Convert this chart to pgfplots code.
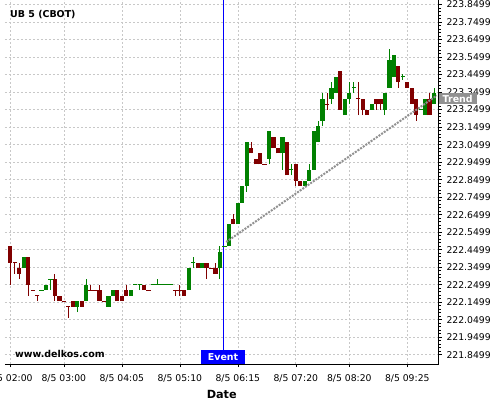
\documentclass[border=0pt]{standalone}
\usepackage{pgfplots}
\pgfplotsset{compat=1.18}
\usepackage{fontspec}
\setmainfont{DejaVu Sans}
\definecolor{cred}{RGB}{128,0,0}
\definecolor{cgreen}{RGB}{0,128,0}
\definecolor{gridc}{RGB}{200,200,200}
\definecolor{trendc}{RGB}{145,145,145}
\begin{document}
\begin{tikzpicture}
\begin{axis}[
  at={(0,0)}, anchor=south west,
  scale only axis, width=433.5bp, height=364bp,
  xmin=-1.2, xmax=96,
  ymin=221.797, ymax=223.876,
  axis x line*=bottom, axis y line*=right,
  axis line style={black, line width=0.9bp},
  xtick={0,12,25,38,51,64,76,89},
  xticklabels={8/5 02:00,8/5 03:00,8/5 04:05,8/5 05:10,8/5 06:15,8/5 07:20,8/5 08:20,8/5 09:25},
  ytick={221.8499,221.9499,222.0499,222.1499,222.2499,222.3499,222.4499,222.5499,222.6499,222.7499,222.8499,222.9499,223.0499,223.1499,223.2499,223.3499,223.4499,223.5499,223.6499,223.7499,223.8499},
  yticklabels={221.8499,221.9499,222.0499,222.1499,222.2499,222.3499,222.4499,222.5499,222.6499,222.7499,222.8499,222.9499,223.0499,223.1499,223.2499,223.3499,223.4499,223.5499,223.6499,223.7499,223.8499},
  minor x tick num=3,
  minor y tick num=4,
  tick align=outside,
  major tick length=3bp, minor tick length=2bp,
  tick style={black, line width=0.5bp},
  grid=major,
  major grid style={gridc, dash pattern=on 2bp off 2bp, line width=0.6bp},
  ticklabel style={font=\fontsize{9.3}{11}\selectfont},
  xticklabel style={yshift=-4bp},
  yticklabel style={xshift=1.5bp},
  xlabel={Date},
  xlabel style={font=\bfseries\fontsize{11.3}{13}\selectfont, yshift=-1bp},
  unbounded coords=jump,
]
% wicks
\addplot[cgreen, line width=1bp] coordinates {
(9,222.21875)(9,222.28125)(9,nan)
(15,222.09375)(15,222.15625)(15,nan)
(17,222.15625)(17,222.28125)(17,nan)
(29,222.21875)(29,222.25)(29,nan)
(33,222.25)(33,222.28125)(33,nan)
(41,222.34375)(41,222.40625)(41,nan)
(47,222.28125)(47,222.46875)(47,nan)
(53,222.78125)(53,223.0625)(53,nan)
(58,222.9375)(58,223.125)(58,nan)
(61,222.90625)(61,223.09375)(61,nan)
(63,222.875)(63,222.9375)(63,nan)
(67,222.84375)(67,222.9375)(67,nan)
(69,223.0625)(69,223.1875)(69,nan)
(70,223.15625)(70,223.34375)(70,nan)
(72,223.28125)(72,223.40625)(72,nan)
(76,223.28125)(76,223.40625)(76,nan)
(77,223.34375)(77,223.40625)(77,nan)
(84,223.21875)(84,223.34375)(84,nan)
(85,223.375)(85,223.59375)(85,nan)
(88,223.421875)(88,223.453125)(88,nan)
(95,223.28125)(95,223.375)
};
\addplot[cred, line width=1bp] coordinates {
(0,222.25)(0,222.46875)(0,nan)
(1,222.3125)(1,222.375)(1,nan)
(2,222.28125)(2,222.375)(2,nan)
(4,222.1875)(4,222.40625)(4,nan)
(6,222.15625)(6,222.1875)(6,nan)
(10,222.15625)(10,222.3125)(10,nan)
(13,222.0625)(13,222.125)(13,nan)
(18,222.21875)(18,222.25)(18,nan)
(20,222.15625)(20,222.25)(20,nan)
(26,222.1875)(26,222.25)(26,nan)
(37,222.1875)(37,222.21875)(37,nan)
(38,222.1875)(38,222.25)(38,nan)
(44,222.28125)(44,222.375)(44,nan)
(46,222.3125)(46,222.375)(46,nan)
(50,222.59375)(50,222.65625)(50,nan)
(54,223)(54,223.0625)(54,nan)
(64,222.8125)(64,222.9375)(64,nan)
(71,223.25)(71,223.34375)(71,nan)
(78,223.21875)(78,223.40625)(78,nan)
(79,223.21875)(79,223.3125)(79,nan)
(82,223.25)(82,223.3125)(82,nan)
(83,223.25)(83,223.3125)(83,nan)
(87,223.375)(87,223.5)(87,nan)
(91,223.1875)(91,223.3125)(91,nan)
(94,223.21875)(94,223.34375)
};
% bodies
\addplot[cgreen, line width=4.2bp] coordinates {
(3,222.34375)(3,222.40625)(3,nan)
(8,222.21875)(8,222.25)(8,nan)
(15,222.125)(15,222.15625)(15,nan)
(17,222.15625)(17,222.25)(17,nan)
(22,222.125)(22,222.1875)(22,nan)
(23,222.1875)(23,222.21875)(23,nan)
(27,222.1875)(27,222.21875)(27,nan)
(40,222.21875)(40,222.34375)(40,nan)
(43,222.34375)(43,222.375)(43,nan)
(47,222.34375)(47,222.4375)(47,nan)
(49,222.46875)(49,222.59375)(49,nan)
(51,222.59375)(51,222.71875)(51,nan)
(52,222.71875)(52,222.8125)(52,nan)
(53,222.8125)(53,223.0625)(53,nan)
(58,222.96875)(58,223.125)(58,nan)
(61,223)(61,223.09375)(61,nan)
(66,222.8125)(66,222.84375)(66,nan)
(67,222.84375)(67,222.90625)(67,nan)
(68,222.90625)(68,223.125)(68,nan)
(69,223.0625)(69,223.15625)(69,nan)
(70,223.1875)(70,223.3125)(70,nan)
(72,223.3125)(72,223.375)(72,nan)
(73,223.34375)(73,223.4375)(73,nan)
(75,223.21875)(75,223.3125)(75,nan)
(76,223.3125)(76,223.34375)(76,nan)
(81,223.25)(81,223.28125)(81,nan)
(84,223.25)(84,223.34375)(84,nan)
(85,223.375)(85,223.53125)(85,nan)
(86,223.4375)(86,223.5625)(86,nan)
(93,223.21875)(93,223.3125)(93,nan)
(95,223.28125)(95,223.34375)
};
\addplot[cred, line width=4.2bp] coordinates {
(0,222.375)(0,222.46875)(0,nan)
(2,222.3125)(2,222.34375)(2,nan)
(4,222.25)(4,222.40625)(4,nan)
(10,222.1875)(10,222.28125)(10,nan)
(11,222.15625)(11,222.1875)(11,nan)
(14,222.125)(14,222.15625)(14,nan)
(16,222.125)(16,222.15625)(16,nan)
(20,222.15625)(20,222.21875)(20,nan)
(24,222.15625)(24,222.21875)(24,nan)
(25,222.15625)(25,222.1875)(25,nan)
(26,222.1875)(26,222.21875)(26,nan)
(30,222.21875)(30,222.25)(30,nan)
(39,222.1875)(39,222.21875)(39,nan)
(42,222.34375)(42,222.375)(42,nan)
(44,222.34375)(44,222.375)(44,nan)
(46,222.3125)(46,222.34375)(46,nan)
(50,222.59375)(50,222.625)(50,nan)
(54,223)(54,223.03125)(54,nan)
(55,222.9375)(55,222.96875)(55,nan)
(56,222.9375)(56,223)(56,nan)
(59,223.03125)(59,223.09375)(59,nan)
(60,223)(60,223.03125)(60,nan)
(62,222.875)(62,223.0625)(62,nan)
(64,222.84375)(64,222.9375)(64,nan)
(65,222.8125)(65,222.84375)(65,nan)
(74,223.25)(74,223.46875)(74,nan)
(79,223.25)(79,223.3125)(79,nan)
(80,223.21875)(80,223.25)(80,nan)
(82,223.28125)(82,223.3125)(82,nan)
(83,223.28125)(83,223.3125)(83,nan)
(87,223.40625)(87,223.5)(87,nan)
(89,223.375)(89,223.40625)(89,nan)
(90,223.28125)(90,223.375)(90,nan)
(91,223.21875)(91,223.3125)(91,nan)
(94,223.21875)(94,223.3125)
};
% doji candles
\addplot[only marks, mark=-, mark size=2.15bp, cgreen, mark options={line width=1.2bp}] coordinates {
(7,222.21875)(9,222.28125)(28,222.25)(29,222.25)(32,222.25)(33,222.25)(34,222.25)(35,222.25)(36,222.25)(41,222.375)(48,222.46875)(63,222.90625)(77,223.375)(88,223.4375)(92,223.25)
};
\addplot[only marks, mark=-, mark size=2.15bp, cred, mark options={line width=1.2bp}] coordinates {
(1,222.375)(5,222.21875)(6,222.1875)(12,222.15625)(13,222.125)(18,222.21875)(19,222.21875)(21,222.15625)(31,222.21875)(37,222.21875)(38,222.21875)(45,222.34375)(57,222.9375)(71,223.28125)(78,223.3125)
};
% event line
\addplot[blue, line width=1bp] coordinates {(47.7,221.797) (47.7,223.876)};
% trend line
\addplot[trendc, line width=2bp, dash pattern=on 2bp off 1.2bp] coordinates {(48.4,222.494) (95.6,223.33)};
\node[anchor=west, font=\bfseries\fontsize{9.5}{11}\selectfont, inner sep=0] at (rel axis cs:0.0115,0.9588) {UB 5 (CBOT)};
\node[anchor=west, font=\bfseries\fontsize{9.5}{11}\selectfont, inner sep=0] at (rel axis cs:0.0231,0.0275) {www.delkos.com};
\node[fill=blue, text=white, anchor=south, minimum width=44bp, minimum height=14bp, inner sep=0, font=\bfseries\fontsize{9.5}{11}\selectfont] at (axis cs:47.7,221.797) {Event};
\coordinate (tr) at (axis cs:96,223.312);
\end{axis}
\node[fill=trendc, text=white, anchor=west, minimum width=38bp, minimum height=11bp, inner sep=0, font=\bfseries\fontsize{9.5}{11}\selectfont] at (tr) {Trend};
\pgfresetboundingbox
\path[use as bounding box] (-5bp,-36bp) rectangle (495bp,364bp);
\end{tikzpicture}
\end{document}
